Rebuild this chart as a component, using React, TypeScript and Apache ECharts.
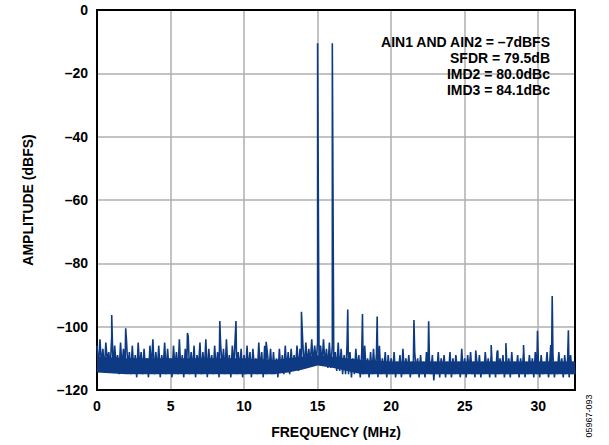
import React, { useEffect, useRef } from "react";
import * as echarts from "echarts";

// Frequency bin step (MHz) of the noise floor trace
const noiseStep = 0.1;
// Noise floor values (dBFS), one per 0.1 MHz bin, 0 … 32.5 MHz
const noiseDb: number[] = [
  -106,-113,-104,-112,-107,-114,-105,-111,-108,-113,-103,-114,-106,-112,-109,-115,-105,-113,-107,-114,
  -104,-113,-108,-115,-106,-114,-109,-116,-105,-113,-108,-115,-107,-114,-110,-116,-106,-113,-104,-115,
  -108,-114,-106,-116,-109,-113,-105,-115,-107,-114,-110,-116,-106,-113,-108,-115,-104,-114,-109,-116,
  -107,-113,-103,-115,-108,-114,-106,-116,-109,-113,-105,-115,-108,-114,-104,-116,-107,-113,-109,-115,
  -106,-114,-108,-116,-105,-113,-107,-115,-104,-114,-109,-116,-106,-113,-103,-115,-108,-114,-107,-116,
  -109,-115,-106,-114,-108,-116,-107,-113,-110,-115,-105,-114,-108,-116,-106,-115,-109,-114,-107,-115,
  -108,-115,-110,-116,-107,-114,-109,-115,-106,-114,-108,-115,-107,-114,-109,-113,-106,-114,-107,-113,
  -106,-113,-105,-112,-107,-112,-104,-112,-106,-111,-105,-112,-106,-112,-104,-112,-107,-113,-105,-113,
  -106,-113,-108,-114,-105,-114,-107,-115,-109,-115,-106,-115,-108,-116,-110,-115,-107,-114,-109,-116,
  -108,-115,-106,-114,-110,-116,-108,-115,-107,-114,-109,-116,-106,-115,-110,-114,-108,-116,-109,-115,
  -110,-115,-108,-116,-111,-114,-109,-116,-107,-115,-110,-114,-109,-116,-111,-115,-108,-114,-110,-116,
  -109,-115,-111,-116,-108,-114,-110,-115,-109,-117,-111,-115,-108,-116,-110,-114,-109,-116,-111,-115,
  -108,-116,-110,-115,-109,-114,-111,-116,-107,-115,-110,-116,-109,-114,-108,-115,-111,-116,-110,-115,
  -109,-116,-111,-115,-108,-114,-110,-116,-109,-115,-111,-116,-108,-115,-110,-114,-109,-116,-111,-115,
  -110,-116,-108,-115,-111,-114,-109,-116,-110,-115,-108,-116,-111,-115,-109,-114,-110,-116,-108,-115,
  -110,-116,-109,-115,-111,-114,-108,-116,-110,-115,-109,-116,-111,-115,-108,-114,-110,-116,-109,-115,
  -110,-116,-109,-115,-111,-115,
];

// Solid core of the noise band (where the dense trace fills completely)
const coreFreq: number[] = [0, 2, 5, 10, 12, 13, 14, 15, 16, 17, 18, 20, 25, 30, 32.5];
const coreTop: number[] = [-109.5, -110, -110, -110, -110.5, -110, -109.5, -109, -109.5, -110, -110.5, -111, -111, -111, -111];
const coreBottom: number[] = [-114.5, -115, -115, -115, -115, -114.5, -113.5, -112.3, -113, -114, -115, -115, -115, -115, -115];

// Tones and spurs (MHz, dBFS)
const spurFreq: number[] = [1.0, 1.95, 6.15, 8.35, 9.45, 11.5, 13.9, 15.0, 16.0, 17.05, 18.05, 19.05, 21.55, 22.55, 25.75, 26.8, 27.25, 27.8, 29.0, 29.95, 30.85, 30.95, 32.05];
const spurDb: number[] = [-96.3, -100.5, -102, -98.2, -98.2, -104.8, -95.3, -10.5, -10.5, -94.6, -96, -96.8, -97.9, -98.3, -107.5, -105.8, -107.5, -105.2, -105.8, -101.3, -105.8, -90.3, -101.1];

const xTicks = { min: 0, max: 32.5, interval: 5 };
const yTicks = { min: -120, max: 0, interval: 20 };

const annotationLines: string[] = [
  "AIN1 AND AIN2 = \u20137dBFS",
  "SFDR = 79.5dB",
  "IMD2 = 80.0dBc",
  "IMD3 = 84.1dBc",
];

const FONT = 'Arial, "Liberation Sans", Helvetica, sans-serif';
const BLUE = "#0e3a83";
const GRID_GREY = "rgb(175,175,175)";

export default function App() {
  const ref = useRef<HTMLDivElement>(null);
  useEffect(() => {
    if (!ref.current) return;
    const chart = echarts.init(ref.current, undefined, { renderer: "svg" });
    const pts: [number, number][] = noiseDb.map((v, i) => [Math.round(i * noiseStep * 100) / 100, v]);
    spurFreq.forEach((f, i) => pts.push([f, spurDb[i]]));
    pts.sort((a, b) => a[0] - b[0]);

    const label = {
      color: "#000",
      fontWeight: "bold",
      fontSize: 14,
      fontFamily: FONT,
      margin: 9,
    };
    const box = () => ({ show: true, onZero: false, lineStyle: { color: "#000", width: 2 } });
    const split = () => ({ show: true, lineStyle: { color: GRID_GREY, width: 1.5, type: "solid" } });

    chart.setOption({
      animation: false,
      grid: { left: 97, top: 10, right: 34, bottom: 55 },
      xAxis: [
        {
          type: "value",
          position: "bottom",
          min: xTicks.min,
          max: xTicks.max,
          interval: xTicks.interval,
          axisLine: box(),
          axisTick: { show: false },
          splitLine: split(),
          axisLabel: { ...label, formatter: (v: number) => (v % 5 === 0 ? String(v) : "") },
        },
        {
          type: "value",
          position: "top",
          min: xTicks.min,
          max: xTicks.max,
          interval: xTicks.interval,
          axisLine: box(),
          axisTick: { show: false },
          splitLine: { show: false },
          axisLabel: { show: false },
        },
      ],
      yAxis: [
        {
          type: "value",
          position: "left",
          min: yTicks.min,
          max: yTicks.max,
          interval: yTicks.interval,
          axisLine: box(),
          axisTick: { show: false },
          splitLine: split(),
          axisLabel: { ...label, formatter: (v: number) => String(v).replace("-", "\u2013") },
        },
        {
          type: "value",
          position: "right",
          min: yTicks.min,
          max: yTicks.max,
          interval: yTicks.interval,
          axisLine: box(),
          axisTick: { show: false },
          splitLine: { show: false },
          axisLabel: { show: false },
        },
      ],
      graphic: [
        {
          type: "text",
          x: 550,
          y: 34,
          z: 10,
          style: {
            text: annotationLines.join("\n"),
            fontFamily: FONT,
            fontWeight: "bold",
            fontSize: 14,
            lineHeight: 16,
            fill: "#000",
            align: "right",
            textAlign: "right",
          },
        },
        {
          type: "text",
          x: 28,
          y: 200,
          rotation: Math.PI / 2,
          style: {
            text: "AMPLITUDE (dBFS)",
            fontFamily: FONT,
            fontWeight: "bold",
            fontSize: 14,
            fill: "#000",
            textAlign: "center",
            textVerticalAlign: "middle",
          },
        },
        {
          type: "text",
          x: 336,
          y: 432,
          style: {
            text: "FREQUENCY (MHz)",
            fontFamily: FONT,
            fontWeight: "bold",
            fontSize: 14,
            fill: "#000",
            textAlign: "center",
            textVerticalAlign: "middle",
          },
        },
        {
          type: "text",
          x: 589,
          y: 416,
          rotation: Math.PI / 2,
          style: {
            text: "05967-093",
            fontFamily: FONT,
            fontSize: 9,
            fill: "#000",
            textAlign: "center",
            textVerticalAlign: "middle",
          },
        },
      ],
      series: [
        {
          type: "custom",
          data: [0],
          silent: true,
          z: 2,
          renderItem: (_params: any, api: any) => {
            const top = coreFreq.map((f, i) => api.coord([f, coreTop[i]]));
            const bottom = coreFreq.map((f, i) => api.coord([f, coreBottom[i]])).reverse();
            return {
              type: "polygon",
              shape: { points: top.concat(bottom) },
              style: { fill: BLUE },
            };
          },
        },
        {
          type: "line",
          data: pts,
          symbol: "none",
          showSymbol: false,
          lineStyle: { color: BLUE, width: 1.6 },
          z: 3,
        },
      ],
    });
    return () => chart.dispose();
  }, []);
  return (
    <div
      ref={ref}
      style={{ position: "absolute", left: 0, top: 0, width: 609, height: 445 }}
    />
  );
}
